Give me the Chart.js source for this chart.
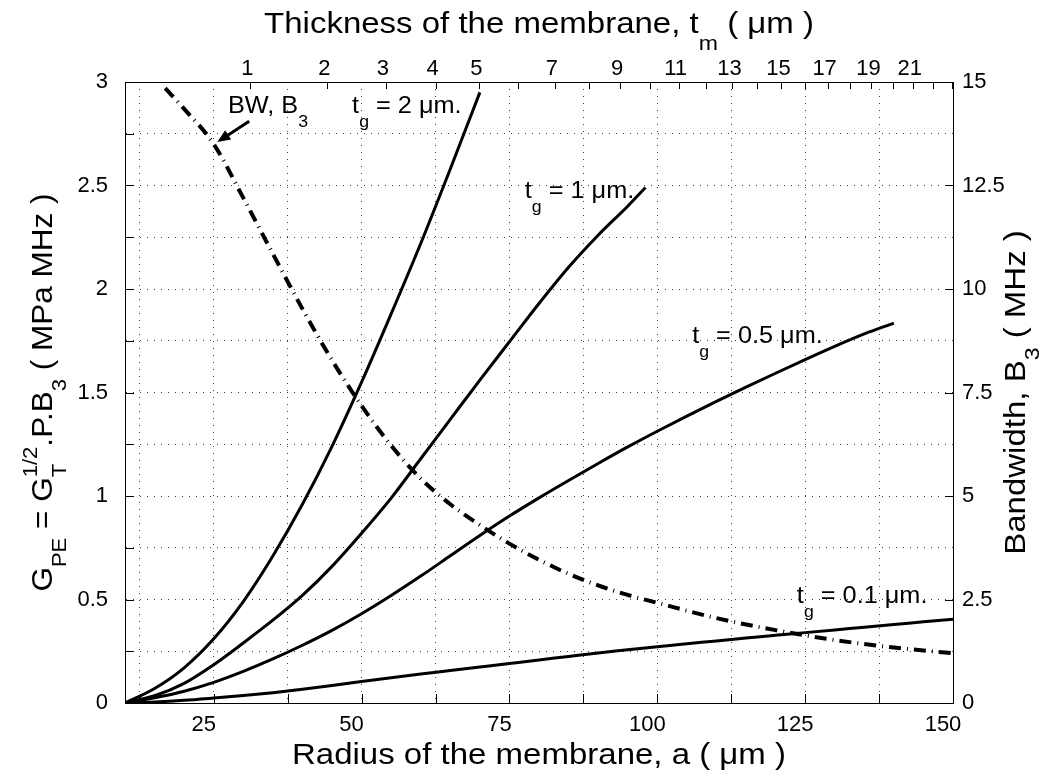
<!DOCTYPE html>
<html>
<head>
<meta charset="utf-8">
<script src="https://cdn.jsdelivr.net/npm/chart.js@4.4.0/dist/chart.umd.min.js"></script>
<style>
  html, body { margin: 0; padding: 0; background: #fff; }
</style>
</head>
<body>
<canvas id="gpeChart" width="1050" height="776"></canvas>
<script>
// G_PE (MPa MHz) against membrane radius a (um), one curve per gap thickness t_g
const radiusTg2 = [10, 15, 20, 25, 30, 35, 40, 45, 50, 55, 60, 65, 70];
const gpeTg2 = [0, 0.07, 0.17, 0.31, 0.49, 0.71, 0.96, 1.24, 1.55, 1.88, 2.22, 2.58, 2.95];

const radiusTg1 = [10, 15, 20, 25, 30, 35, 40, 45, 50, 55, 60, 65, 70, 75, 80, 85, 90, 95, 98];
const gpeTg1 = [0, 0.035, 0.095, 0.185, 0.29, 0.40, 0.52, 0.66, 0.82, 0.99, 1.18, 1.37, 1.56, 1.745, 1.93,
  2.105, 2.26, 2.40, 2.49];

const radiusTg05 = [10, 15, 20, 25, 30, 35, 40, 45, 50, 55, 60, 65, 70, 75, 80, 85, 90, 95, 100,
  105, 110, 115, 120, 125, 130, 135, 140];
const gpeTg05 = [0, 0.025, 0.057, 0.1, 0.153, 0.213, 0.279, 0.351, 0.431, 0.519, 0.613, 0.711, 0.809, 0.903,
  0.991, 1.075, 1.157, 1.237, 1.313, 1.386, 1.457, 1.526, 1.593, 1.659, 1.723, 1.783, 1.835];

const radiusTg01 = [10, 15, 20, 25, 30, 35, 40, 45, 50, 55, 60, 65, 70, 75, 80, 85, 90, 95, 100,
  105, 110, 115, 120, 125, 130, 135, 140, 145, 150];
const gpeTg01 = [0, 0.005, 0.013, 0.024, 0.036, 0.05, 0.066, 0.084, 0.104, 0.122, 0.14, 0.157, 0.174, 0.191,
  0.208, 0.225, 0.242, 0.257, 0.272, 0.286, 0.3, 0.314, 0.327, 0.34, 0.353, 0.366, 0.379, 0.392, 0.405];

// bandwidth B3 (MHz, right axis)
const radiusBw = [16.8, 20, 25, 30, 35, 40, 45, 50, 55, 60, 65, 70, 75, 80, 85, 90, 95, 100, 110, 120, 130, 140, 150];
const bandwidthB3 = [14.85, 14.35, 13.5, 12.2, 10.85, 9.52, 8.28, 7.18, 6.22, 5.42, 4.8, 4.3, 3.85, 3.46, 3.12,
  2.84, 2.61, 2.42, 2.05, 1.76, 1.52, 1.34, 1.2];

// radius axis ticks (labelled every 25)
const radiusTicks = [12.5, 25, 37.5, 50, 62.5, 75, 87.5, 100, 112.5, 125, 137.5, 150];
// membrane thickness t_m ticks on the top axis and the radius each one sits at
const thicknessTicks = [1, 2, 3, 4, 5, 6, 7, 8, 9, 10, 11, 12, 13, 14, 15, 16, 17, 18, 19, 20, 21, 22, 23];
const thicknessTickRadius = [31.2, 44.2, 54.1, 62.5, 69.9, 76.5, 82.7, 88.4, 93.7, 98.8, 103.6, 108.3,
  112.7, 116.9, 121.0, 125.0, 128.8, 132.6, 136.2, 139.8, 143.2, 146.6, 149.9];
const thicknessLabels = [1, 2, 3, 4, 5, 7, 9, 11, 13, 15, 17, 19, 21];

const FONT = 'Liberation Sans, Arial, Helvetica, sans-serif';
const tickFont = { family: FONT, size: 22 };
const gridColor = 'rgba(0,0,0,0.75)';

function pts(xs, ys) {
  return xs.map((x, i) => ({ x: x, y: ys[i] }));
}

function solid(label, xs, ys) {
  return {
    label: label,
    data: pts(xs, ys),
    borderColor: '#000',
    borderWidth: 3,
    pointRadius: 0,
    fill: false,
    cubicInterpolationMode: 'monotone',
    yAxisID: 'y'
  };
}

// text with sub/superscripts; runs are {t}, {sub}, {sup} or {sub, sup} stacked
function drawRich(ctx, runs, x, y, size, o) {
  const small = size * (o.subScale || 0.7);
  const sx = o.sx || 1;
  const setFont = s => { ctx.font = s + 'px ' + FONT; };
  const widthOf = r => {
    if (r.t !== undefined) { setFont(size); return ctx.measureText(r.t).width; }
    setFont(small);
    return Math.max(r.sub ? ctx.measureText(r.sub).width : 0, r.sup ? ctx.measureText(r.sup).width : 0);
  };
  const total = runs.reduce((w, r) => w + widthOf(r), 0);
  ctx.save();
  ctx.translate(x, y);
  if (o.rotate) ctx.rotate(-Math.PI / 2);
  ctx.scale(sx, 1);
  ctx.fillStyle = '#000';
  ctx.textBaseline = 'alphabetic';
  ctx.textAlign = 'left';
  let cx = o.align === 'center' ? -total / 2 : 0;
  runs.forEach(r => {
    const w = widthOf(r);
    if (r.t !== undefined) {
      setFont(size);
      ctx.fillText(r.t, cx, 0);
    } else {
      setFont(small);
      if (r.sub) ctx.fillText(r.sub, cx, size * (o.subShift || 0.42));
      if (r.sup) ctx.fillText(r.sup, cx, -size * 0.5);
    }
    cx += w;
  });
  ctx.restore();
}

// inward tick marks on all four sides
const tickMarks = {
  id: 'tickMarks',
  afterDatasetsDraw(chart) {
    const ctx = chart.ctx;
    const area = chart.chartArea;
    const s = chart.scales;
    ctx.save();
    ctx.strokeStyle = '#000';
    ctx.lineWidth = 1;
    ctx.beginPath();
    s.x.ticks.forEach(t => {
      const px = Math.round(s.x.getPixelForValue(t.value)) + 0.5;
      ctx.moveTo(px, area.bottom);
      ctx.lineTo(px, area.bottom - 9);
    });
    s.x2.ticks.forEach(t => {
      const px = Math.round(s.x2.getPixelForValue(t.value)) + 0.5;
      ctx.moveTo(px, area.top);
      ctx.lineTo(px, area.top + 7);
    });
    s.y.ticks.forEach(t => {
      const py = Math.round(s.y.getPixelForValue(t.value)) + 0.5;
      ctx.moveTo(area.left, py);
      ctx.lineTo(area.left + 9, py);
    });
    s.y1.ticks.forEach(t => {
      const py = Math.round(s.y1.getPixelForValue(t.value)) + 0.5;
      ctx.moveTo(area.right, py);
      ctx.lineTo(area.right - 8, py);
    });
    ctx.stroke();
    ctx.restore();
  }
};

// axis titles, curve labels and the arrow pointing at the bandwidth curve
const labels = {
  id: 'labels',
  afterDraw(chart) {
    const ctx = chart.ctx;
    const area = chart.chartArea;
    const xs = chart.scales.x;
    const ys = chart.scales.y;
    const midX = (area.left + area.right) / 2;
    const midY = (area.top + area.bottom) / 2;
    const at = (a, g) => [xs.getPixelForValue(a), ys.getPixelForValue(g)];

    drawRich(ctx, [{ t: 'Thickness of the membrane, t' }, { sub: 'm' }, { t: ' ( \u03bcm )' }],
      midX, 33, 30, { align: 'center', sx: 1.1, subShift: 0.55 });
    drawRich(ctx, [{ t: 'Radius of the membrane, a ( \u03bcm )' }],
      midX, 764, 30, { align: 'center', sx: 1.1 });
    drawRich(ctx, [{ t: 'G' }, { sub: 'PE' }, { t: ' = G' }, { sub: 'T', sup: '1/2' }, { t: '.P.B' }, { sub: '3' },
      { t: ' ( MPa MHz )' }], 52, midY, 30, { align: 'center', rotate: true, sx: 1.05, subShift: 0.45 });
    drawRich(ctx, [{ t: 'Bandwidth, B' }, { sub: '3' }, { t: ' ( MHz )' }],
      1025, midY, 30, { align: 'center', rotate: true, sx: 1.1, subShift: 0.45 });

    const note = { sx: 1.1, subShift: 0.6 };
    let p = at(27.4, 2.85);
    drawRich(ctx, [{ t: 'BW, B' }, { sub: '3' }], p[0], p[1], 23, note);
    p = at(48.4, 2.85);
    drawRich(ctx, [{ t: 't' }, { sub: 'g' }, { t: ' = 2 \u03bcm.' }], p[0], p[1], 23, note);
    p = at(77.6, 2.44);
    drawRich(ctx, [{ t: 't' }, { sub: 'g' }, { t: ' = 1 \u03bcm.' }], p[0], p[1], 23, note);
    p = at(105.9, 1.74);
    drawRich(ctx, [{ t: 't' }, { sub: 'g' }, { t: ' = 0.5 \u03bcm.' }], p[0], p[1], 23, note);
    p = at(123.6, 0.483);
    drawRich(ctx, [{ t: 't' }, { sub: 'g' }, { t: ' = 0.1 \u03bcm.' }], p[0], p[1], 23, note);

    // arrow from the label down to the dashed curve
    const tail = at(31.0, 2.81);
    const tip = at(25.6, 2.71);
    const ang = Math.atan2(tip[1] - tail[1], tip[0] - tail[0]);
    ctx.save();
    ctx.strokeStyle = '#000';
    ctx.fillStyle = '#000';
    ctx.lineWidth = 3;
    ctx.beginPath();
    ctx.moveTo(tail[0], tail[1]);
    ctx.lineTo(tip[0] - 8 * Math.cos(ang), tip[1] - 8 * Math.sin(ang));
    ctx.stroke();
    ctx.beginPath();
    ctx.moveTo(tip[0], tip[1]);
    ctx.lineTo(tip[0] - 13 * Math.cos(ang) + 5.5 * Math.sin(ang), tip[1] - 13 * Math.sin(ang) - 5.5 * Math.cos(ang));
    ctx.lineTo(tip[0] - 13 * Math.cos(ang) - 5.5 * Math.sin(ang), tip[1] - 13 * Math.sin(ang) + 5.5 * Math.cos(ang));
    ctx.closePath();
    ctx.fill();
    ctx.restore();
  }
};

new Chart(document.getElementById('gpeChart').getContext('2d'), {
  type: 'line',
  data: {
    datasets: [
      solid('tg = 2 um', radiusTg2, gpeTg2),
      solid('tg = 1 um', radiusTg1, gpeTg1),
      solid('tg = 0.5 um', radiusTg05, gpeTg05),
      solid('tg = 0.1 um', radiusTg01, gpeTg01),
      {
        label: 'BW, B3',
        data: pts(radiusBw, bandwidthB3),
        borderColor: '#000',
        borderWidth: 4,
        borderDash: [12, 6, 1, 6],
        borderCapStyle: 'butt',
        pointRadius: 0,
        fill: false,
        cubicInterpolationMode: 'monotone',
        yAxisID: 'y1'
      }
    ]
  },
  options: {
    responsive: false,
    animation: false,
    devicePixelRatio: 1,
    layout: { padding: 0 },
    plugins: { legend: { display: false }, tooltip: { enabled: false } },
    scales: {
      x: {
        type: 'linear',
        position: 'bottom',
        min: 10,
        max: 150,
        afterBuildTicks: s => { s.ticks = radiusTicks.map(v => ({ value: v })); },
        afterFit: s => { s.height = 73; },
        ticks: {
          autoSkip: false, maxRotation: 0, padding: 9, labelOffset: -10,
          font: tickFont, color: '#000',
          callback: v => (v % 25 === 0 ? String(v) : '')
        },
        grid: { color: gridColor, lineWidth: 1, drawTicks: false },
        border: { display: true, color: '#000', width: 1, dash: [1, 6] }
      },
      x2: {
        type: 'linear',
        position: 'top',
        min: 10,
        max: 150,
        afterBuildTicks: s => { s.ticks = thicknessTickRadius.map(v => ({ value: v })); },
        afterFit: s => { s.height = 82; },
        ticks: {
          autoSkip: false, maxRotation: 0, padding: 0, labelOffset: -3,
          font: tickFont, color: '#000',
          callback: (v, i) => (thicknessLabels.includes(thicknessTicks[i]) ? String(thicknessTicks[i]) : '')
        },
        grid: { display: false, drawTicks: false },
        border: { display: true, color: '#000', width: 1 }
      },
      y: {
        type: 'linear',
        position: 'left',
        min: 0,
        max: 3,
        afterFit: s => { s.width = 125; },
        ticks: {
          stepSize: 0.25, autoSkip: false, padding: 17,
          font: tickFont, color: '#000',
          callback: v => (Math.abs(v * 2 - Math.round(v * 2)) < 1e-9 ? String(v) : '')
        },
        grid: { color: gridColor, lineWidth: 1, drawTicks: false },
        border: { display: true, color: '#000', width: 1, dash: [1, 6] }
      },
      y1: {
        type: 'linear',
        position: 'right',
        min: 0,
        max: 15,
        afterFit: s => { s.width = 97; },
        ticks: {
          stepSize: 2.5, autoSkip: false, padding: 9,
          font: tickFont, color: '#000'
        },
        grid: { display: false, drawTicks: false },
        border: { display: true, color: '#000', width: 1 }
      }
    }
  },
  plugins: [tickMarks, labels]
});
</script>
</body>
</html>
